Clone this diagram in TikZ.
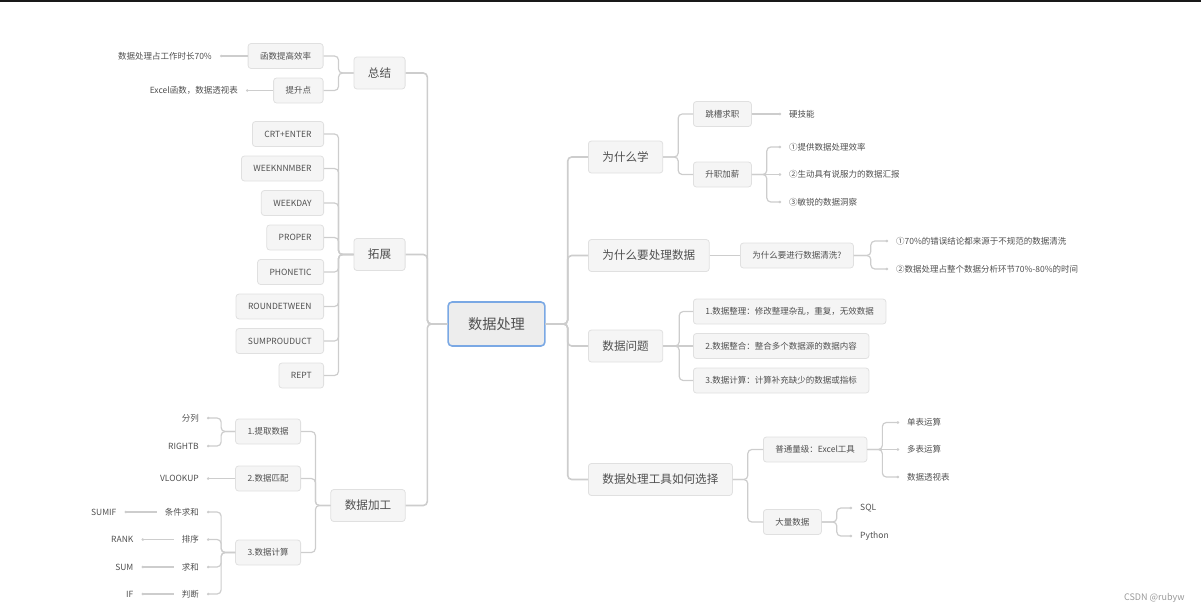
\documentclass[tikz,border=0pt]{standalone}
\usepackage{fontspec}
\setmainfont{Noto Sans CJK SC}
\usetikzlibrary{arrows.meta,positioning}
\definecolor{linegray}{HTML}{CDCDCD}
\definecolor{boxfill}{HTML}{F5F5F5}
\definecolor{boxline}{HTML}{E0E0E0}
\definecolor{txtgray}{HTML}{505050}
\definecolor{rootblue}{HTML}{7AA8E4}

\begin{document}
\begin{tikzpicture}[x=1pt,y=-1pt,
    topicbox/.style={draw=boxline,line width=0.8pt,fill=boxfill,rounded corners=3pt,text=txtgray,
        font=\fontsize{11.6}{12}\selectfont,inner xsep=14pt,inner ysep=0pt,minimum height=32pt},
    subbox/.style={topicbox,font=\fontsize{8.5}{9}\selectfont,inner xsep=12pt,minimum height=25pt},
    leaftext/.style={text=txtgray,font=\fontsize{8.5}{9}\selectfont,inner xsep=8pt,inner ysep=2pt},
    branch/.style={draw=linegray,line width=1.2pt,rounded corners=4pt},
    leafline/.style={branch,-{Circle[length=2.4pt]}}]
    \useasboundingbox (0,0) rectangle (1201,613);
    \fill[black!90] (0,0) rectangle (1201,2);

    % centre
    \node[topicbox,draw=rootblue,line width=1.6pt,fill=black!7,font=\fontsize{14.2}{15}\selectfont,
        inner xsep=20pt,minimum height=44pt,rounded corners=4pt] (root) at (496.5,324) {数据处理};

    % left half
    \node[topicbox] (zj) at (379.5,73) {总结};
    \node[topicbox] (tz) at (379.5,254.5) {拓展};
    \node[topicbox] (jg) at (368,505.5) {数据加工};
    \foreach \n in {zj,tz,jg}
        \draw[branch,line width=1.6pt] (root.west) -- ++(-20,0) |- (\n.east);

    \node[subbox,anchor=east] (hs) at (323.5,56) {函数提高效率};
    \node[subbox,anchor=east] (tsd) at (323.5,90.5) {提升点};
    \foreach \n in {hs,tsd}
        \draw[branch] (zj.west) -- ++(-15,0) |- (\n.east);
    \node[leaftext,anchor=east] (hs1) at (220,56) {数据处理占工作时长70\%};
    \node[leaftext,anchor=east] (tsd1) at (246,90.5) {Excel函数，数据透视表};
    \draw[leafline] (hs.west) -- (hs1.east);
    \draw[leafline] (tsd.west) -- (tsd1.east);

    \foreach \i/\y/\t in {1/134/CRT+ENTER, 2/168.5/WEEKNNMBER, 3/203/WEEKDAY, 4/237.5/PROPER,
        5/272/PHONETIC, 6/306.5/ROUNDETWEEN, 7/341/SUMPROUDUCT, 8/375.5/REPT}{
        \node[subbox,anchor=east] (tz\i) at (324,\y) {\t};
        \draw[branch] (tz.west) -- ++(-15,0) |- (tz\i.east);
    }

    \foreach \i/\y/\t in {1/431.5/1.提取数据, 2/478.5/2.数据匹配, 3/552.5/3.数据计算}{
        \node[subbox,anchor=east] (jg\i) at (301,\y) {\t};
        \draw[branch] (jg.west) -- ++(-15,0) |- (jg\i.east);
    }
    \node[leaftext,anchor=east] (vl) at (207,478.5) {VLOOKUP};
    \draw[leafline] (jg2.west) -- (vl.east);
    \foreach \n/\p/\y/\t in {fl/jg1/418/分列, rb/jg1/446/RIGHTB, tj/jg3/512/条件求和,
        px/jg3/539.5/排序, qh/jg3/567/求和, pd/jg3/594/判断}{
        \node[leaftext,anchor=east] (\n) at (207,\y) {\t};
        \draw[leafline] (\p.west) -- ++(-14,0) |- (\n.east);
    }
    \foreach \n/\p/\t in {sf/tj/SUMIF, rk/px/RANK, sm/qh/SUM, fi/pd/IF}{
        \node[leaftext,left=32pt of \p] (\n) {\t};
        \draw[leafline] (\p.west) -- (\n.east);
    }

    % right half
    \node[topicbox,anchor=west] (ws) at (588,157) {为什么学};
    \node[topicbox,anchor=west] (wc) at (588,255.5) {为什么要处理数据};
    \node[topicbox,anchor=west] (wt) at (588,346) {数据问题};
    \node[topicbox,anchor=west] (gj) at (588,479.5) {数据处理工具如何选择};
    \foreach \n in {ws,wc,wt,gj}
        \draw[branch,line width=1.6pt] (root.east) -- ++(22,0) |- (\n.west);

    \node[subbox,anchor=west] (tc) at (693,114) {跳槽求职};
    \node[subbox,anchor=west] (sz) at (693,174.5) {升职加薪};
    \foreach \n in {tc,sz}
        \draw[branch] (ws.east) -- ++(15,0) |- (\n.west);
    \node[leaftext,anchor=west] (tc1) at (781,114) {硬技能};
    \draw[leafline] (tc.east) -- (tc1.west);
    \foreach \i/\y/\t in {1/147/①提供数据处理效率, 2/174.5/②生动具有说服力的数据汇报, 3/202/③敏锐的数据洞察}
        \node[leaftext,anchor=west] (sz\i) at (781,\y) {\t};
    \draw[leafline] (sz.east) -- (sz2.west);
    \foreach \i in {1,3}
        \draw[leafline] (sz.east) -- ++(15,0) |- (sz\i.west);

    \node[subbox,anchor=west] (qx) at (740,255.5) {为什么要进行数据清洗?};
    \draw[branch] (wc.east) -- (qx.west);
    \node[leaftext,anchor=west] (qx1) at (888,241) {①70\%的错误结论都来源于不规范的数据清洗};
    \node[leaftext,anchor=west] (qx2) at (888,269) {②数据处理占整个数据分析环节70\%-80\%的时间};
    \foreach \i in {1,2}
        \draw[leafline] (qx.east) -- ++(17,0) |- (qx\i.west);

    \node[subbox,anchor=west] (wt1) at (693,311.5) {1.数据整理：修改整理杂乱，重复，无效数据};
    \node[subbox,anchor=west] (wt2) at (693,346) {2.数据整合：整合多个数据源的数据内容};
    \node[subbox,anchor=west] (wt3) at (693,380.5) {3.数据计算：计算补充缺少的数据或指标};
    \draw[branch] (wt.east) -- (wt2.west);
    \foreach \i in {1,3}
        \draw[branch] (wt.east) -- ++(16,0) |- (wt\i.west);

    \node[subbox,anchor=west] (pt) at (763,449.5) {普通量级：Excel工具};
    \node[subbox,anchor=west] (dl) at (763,522) {大量数据};
    \foreach \n in {pt,dl}
        \draw[branch] (gj.east) -- ++(15,0) |- (\n.west);
    \foreach \i/\y/\t in {1/422.5/单表运算, 2/449.5/多表运算, 3/477/数据透视表}
        \node[leaftext,anchor=west] (pt\i) at (899,\y) {\t};
    \draw[leafline] (pt.east) -- (pt2.west);
    \foreach \i in {1,3}
        \draw[leafline] (pt.east) -- ++(15,0) |- (pt\i.west);
    \node[leaftext,anchor=west] (dl1) at (852,508) {SQL};
    \node[leaftext,anchor=west] (dl2) at (852,536) {Python};
    \foreach \i in {1,2}
        \draw[leafline] (dl.east) -- ++(15,0) |- (dl\i.west);

    \node[text=black!40,font=\fontsize{9}{10}\selectfont,anchor=east] (wm) at (1188,598) {CSDN @rubyw};
\end{tikzpicture}
\end{document}
